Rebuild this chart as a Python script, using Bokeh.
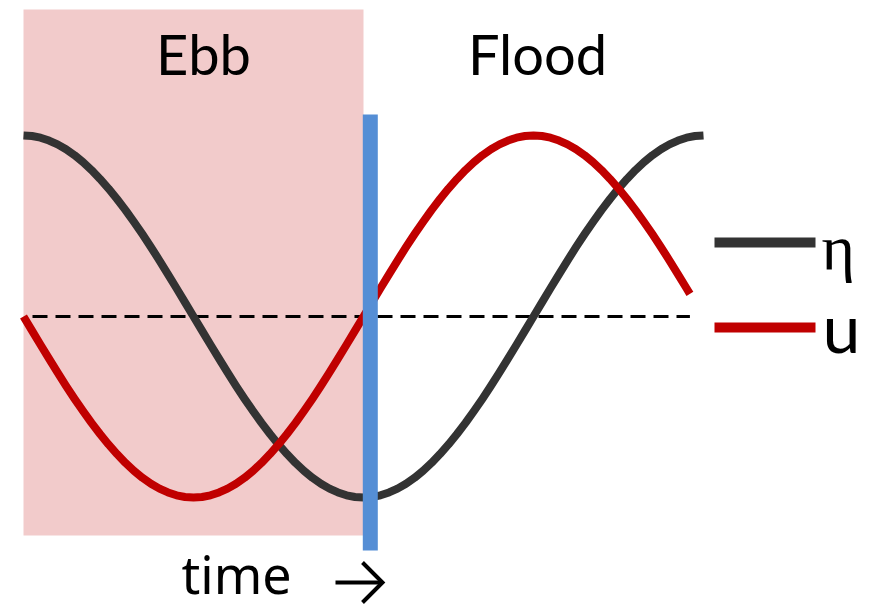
from bokeh.plotting import figure
from bokeh.models import Range1d
from bokeh.embed import file_html
from bokeh.resources import INLINE
from bokeh.core.properties import value

# ---- data (time as fraction of one tidal cycle) ----
time_eta = [0.0000, 0.0125, 0.0250, 0.0375, 0.0500, 0.0625, 0.0750, 0.0875, 0.1000, 0.1125,
            0.1250, 0.1375, 0.1500, 0.1625, 0.1750, 0.1875, 0.2000, 0.2125, 0.2250, 0.2375,
            0.2500, 0.2625, 0.2750, 0.2875, 0.3000, 0.3125, 0.3250, 0.3375, 0.3500, 0.3625,
            0.3750, 0.3875, 0.4000, 0.4125, 0.4250, 0.4375, 0.4500, 0.4625, 0.4750, 0.4875,
            0.5000, 0.5125, 0.5250, 0.5375, 0.5500, 0.5625, 0.5750, 0.5875, 0.6000, 0.6125,
            0.6250, 0.6375, 0.6500, 0.6625, 0.6750, 0.6875, 0.7000, 0.7125, 0.7250, 0.7375,
            0.7500, 0.7625, 0.7750, 0.7875, 0.8000, 0.8125, 0.8250, 0.8375, 0.8500, 0.8625,
            0.8750, 0.8875, 0.9000, 0.9125, 0.9250, 0.9375, 0.9500, 0.9625, 0.9750, 0.9875,
            1.0000]
eta = [1.000, 0.997, 0.988, 0.972, 0.951, 0.924, 0.891, 0.853, 0.809, 0.760,
       0.707, 0.649, 0.588, 0.522, 0.454, 0.383, 0.309, 0.233, 0.156, 0.078,
       0.000, -0.078, -0.156, -0.233, -0.309, -0.383, -0.454, -0.522, -0.588, -0.649,
       -0.707, -0.760, -0.809, -0.853, -0.891, -0.924, -0.951, -0.972, -0.988, -0.997,
       -1.000, -0.997, -0.988, -0.972, -0.951, -0.924, -0.891, -0.853, -0.809, -0.760,
       -0.707, -0.649, -0.588, -0.522, -0.454, -0.383, -0.309, -0.233, -0.156, -0.078,
       0.000, 0.078, 0.156, 0.233, 0.309, 0.383, 0.454, 0.522, 0.588, 0.649,
       0.707, 0.760, 0.809, 0.853, 0.891, 0.924, 0.951, 0.972, 0.988, 0.997,
       1.000]

time_u = [0.0000, 0.0125, 0.0250, 0.0375, 0.0500, 0.0625, 0.0750, 0.0875, 0.1000, 0.1125,
          0.1250, 0.1375, 0.1500, 0.1625, 0.1750, 0.1875, 0.2000, 0.2125, 0.2250, 0.2375,
          0.2500, 0.2625, 0.2750, 0.2875, 0.3000, 0.3125, 0.3250, 0.3375, 0.3500, 0.3625,
          0.3750, 0.3875, 0.4000, 0.4125, 0.4250, 0.4375, 0.4500, 0.4625, 0.4750, 0.4875,
          0.5000, 0.5125, 0.5250, 0.5375, 0.5500, 0.5625, 0.5750, 0.5875, 0.6000, 0.6125,
          0.6250, 0.6375, 0.6500, 0.6625, 0.6750, 0.6875, 0.7000, 0.7125, 0.7250, 0.7375,
          0.7500, 0.7625, 0.7750, 0.7875, 0.8000, 0.8125, 0.8250, 0.8375, 0.8500, 0.8625,
          0.8750, 0.8875, 0.9000, 0.9125, 0.9250, 0.9375, 0.9500, 0.9625, 0.9750, 0.9800]
u = [0.000, -0.078, -0.156, -0.233, -0.309, -0.383, -0.454, -0.522, -0.588, -0.649,
     -0.707, -0.760, -0.809, -0.853, -0.891, -0.924, -0.951, -0.972, -0.988, -0.997,
     -1.000, -0.997, -0.988, -0.972, -0.951, -0.924, -0.891, -0.853, -0.809, -0.760,
     -0.707, -0.649, -0.588, -0.522, -0.454, -0.383, -0.309, -0.233, -0.156, -0.078,
     0.000, 0.078, 0.156, 0.233, 0.309, 0.383, 0.454, 0.522, 0.588, 0.649,
     0.707, 0.760, 0.809, 0.853, 0.891, 0.924, 0.951, 0.972, 0.988, 0.997,
     1.000, 0.997, 0.988, 0.972, 0.951, 0.924, 0.891, 0.853, 0.809, 0.760,
     0.707, 0.649, 0.588, 0.522, 0.454, 0.383, 0.309, 0.233, 0.156, 0.125]

phase_names = ["Ebb", "Flood"]
phase_start = [0.0, 0.5]
phase_end = [0.5, 1.0]
turn_time = 0.51
legend_labels = ["η", "u"]
axis_label = "time"

# ---- layout helpers (picture pixel -> data) ----
X0, SX = 23.0, 680.0
Y0, SY = 316.0, 181.0
def px(X):
    return (X - X0) / SX
def py(Y):
    return (Y0 - Y) / SY

W, H = 870, 609
p = figure(width=W, height=H, output_backend="svg", toolbar_location=None,
           x_range=Range1d(px(0), px(W)), y_range=Range1d(py(H), py(0)),
           x_axis_location=None, y_axis_location=None, min_border=0,
           background_fill_color="white", border_fill_color="white")
p.outline_line_color = None
p.grid.visible = False

# ebb shading
p.quad(left=[phase_start[0]], right=[phase_end[0]], top=[py(9)], bottom=[py(535)],
       fill_color="#F2CBCB", line_color=None)

# zero line
p.line(x=[px(32), time_u[-1]], y=[0, 0], line_color="black", line_width=3, line_dash="15 8")

# curves
p.line(x=time_eta, y=eta, line_color="#333333", line_width=8, line_join="round")
p.line(x=time_u, y=u, line_color="#C00000", line_width=8, line_join="round")

# slack / turn line
p.segment(x0=[turn_time], x1=[turn_time], y0=[py(114)], y1=[py(550)],
          line_color="#558ED5", line_width=15)

# phase labels
p.text(x=[px(203), px(537)], y=[py(53), py(53)], text=phase_names,
       text_font=value("Lato"), text_font_size="56px", text_align="center",
       text_baseline="alphabetic", text_color="black")

# legend
p.segment(x0=[px(714)], x1=[px(815)], y0=[py(242)], y1=[py(242)], line_color="#333333", line_width=10)
p.segment(x0=[px(714)], x1=[px(815)], y0=[py(327)], y1=[py(327)], line_color="#C00000", line_width=10)
p.text(x=[px(821)], y=[py(247)], text=[legend_labels[0]], text_font=value("Liberation Serif"),
       text_font_size="64px", text_baseline="alphabetic", text_color="black")
p.text(x=[px(822)], y=[py(326)], text=[legend_labels[1]], text_font=value("Lato"),
       text_font_size="68px", text_baseline="alphabetic", text_color="black")

# time label with arrow
p.text(x=[px(181)], y=[py(573)], text=[axis_label], text_font=value("Noto Sans"),
       text_font_size="52px", text_baseline="alphabetic", text_color="black")
p.multi_line(xs=[[px(335), px(382)], [px(362), px(382), px(362)]],
             ys=[[py(582), py(582)], [py(562), py(582), py(602)]],
             line_color="black", line_width=4, line_join="miter")

open("out.html", "w").write(file_html(p, INLINE))
